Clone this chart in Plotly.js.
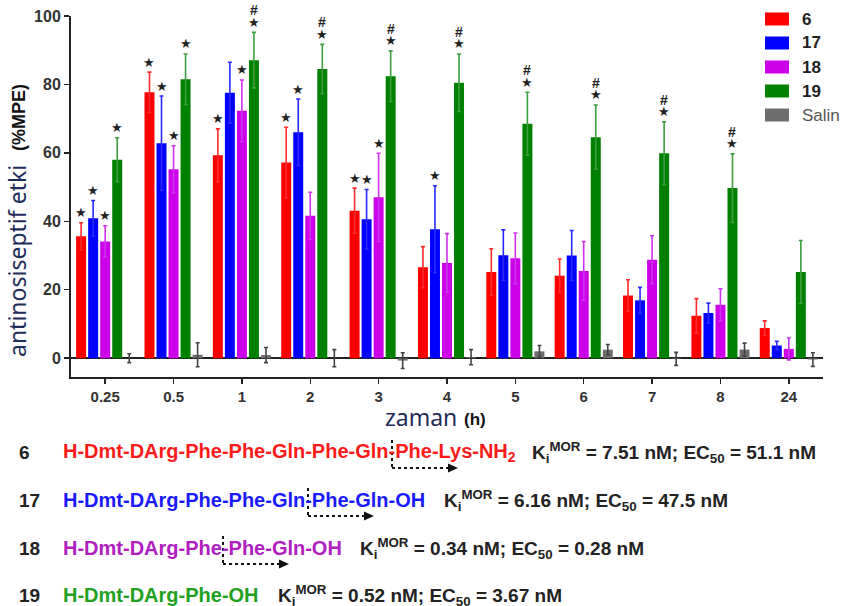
<!DOCTYPE html>
<html><head><meta charset="utf-8">
<script src="https://cdn.plot.ly/plotly-3.0.1.min.js"></script>
<style>html,body{margin:0;padding:0;background:#fff}</style>
</head><body><div id="chart" style="width:842px;height:606px"></div>
<script>
// ---- data ----
const times = ['0.25','0.5','1','2','3','4','5','6','7','8','24'];
const s6   = [35.6, 77.7, 59.3, 57.2, 43.1, 26.6, 25.2, 24.1, 18.3, 12.4, 8.8];
const e6   = [4.0, 5.9, 7.7, 10.3, 6.6, 6.0, 6.8, 4.9, 4.6, 5.0, 2.1];
const s17  = [40.9, 62.8, 77.6, 66.0, 40.6, 37.7, 30.1, 30.0, 16.9, 13.2, 3.7];
const e17  = [5.2, 13.8, 8.9, 9.7, 8.7, 12.7, 7.4, 7.3, 3.8, 2.9, 1.2];
const s18  = [34.1, 55.2, 72.3, 41.6, 47.0, 27.8, 29.2, 25.5, 28.8, 15.6, 2.7];
const e18  = [4.6, 6.9, 9.0, 6.9, 12.9, 8.6, 7.4, 8.6, 7.0, 4.7, 3.2];
const s19  = [58.0, 81.5, 87.1, 84.5, 82.4, 80.5, 68.5, 64.6, 59.9, 49.7, 25.2];
const e19  = [6.4, 7.4, 8.1, 7.2, 7.4, 8.4, 9.2, 9.4, 9.2, 10.0, 9.2];
const sSal = [0.0, 1.0, 0.9, 0.0, -0.7, 0.3, 2.0, 2.5, -0.2, 2.5, -0.4];
const eSal = [1.3, 3.5, 2.2, 2.5, 2.3, 2.2, 1.7, 1.5, 1.9, 1.9, 2.0];
// significance marks (1 = shown)
const star6  = [1,1,1,1,1,0,0,0,0,0,0];
const star17 = [1,1,0,1,1,1,0,0,0,0,0];
const star18 = [1,1,1,0,1,0,0,0,0,0,0];
const star19 = [1,1,1,1,1,1,1,1,1,1,0];
const hash19 = [0,0,1,1,1,1,1,1,1,1,0];
const seriesNames = ['6','17','18','19','Salin'];
const compoundNums = ['6','17','18','19'];
const compoundSeqs = ['H-Dmt-DArg-Phe-Phe-Gln-Phe-Gln-Phe-Lys-NH<sub>2</sub>',
                      'H-Dmt-DArg-Phe-Phe-Gln-Phe-Gln-OH',
                      'H-Dmt-DArg-Phe-Phe-Gln-OH',
                      'H-Dmt-DArg-Phe-OH'];
const kiMOR = ['7.51','6.16','0.34','0.52'];
const ec50  = ['51.1','47.5','0.28','3.67'];

// ---- styling / layout ----
const colors  = ['#ff0000','#0000ff','#cc00e8','#008000','#6e6e6e'];
const ecolors = ['#ff2a2a','#2a2aff','#d030f0','#3c9e3c','#444444'];
const seqColors = ['#ff1a1a','#1a1aff','#b020c0','#22a022'];
const vals = [s6,s17,s18,s19,sSal], errs = [e6,e17,e18,e19,eSal];
const stars = [star6,star17,star18,star19,null];

const M = {l:71, r:19, t:16, b:229};
const W = 842 - M.l - M.r, H = 606 - M.t - M.b;
const X = px => (px - M.l) / W;
const Y = py => (M.t + H - py) / H;
const BARGAP = 0.12;
const BOLD = 'Liberation Sans, Arial, sans-serif';

const traces = seriesNames.map((n,i) => ({
  type:'bar', name:n, x:times, y:vals[i],
  marker:{color:colors[i], line:{width:0}},
  error_y:{type:'data', array:errs[i], visible:true, color:ecolors[i], thickness:1.6, width:2},
  showlegend:false, hoverinfo:'skip'
}));

const annotations = [];
const pitch = (1 - BARGAP) / 5;
for (let i = 0; i < 4; i++) {
  times.forEach((t,j) => {
    const xx = j + (i - 2) * pitch;
    const top = vals[i][j] + errs[i][j];
    if (stars[i][j]) annotations.push({x:xx, y:top, xref:'x', yref:'y', text:'★', showarrow:false,
      yshift:10, yanchor:'middle', font:{family:'DejaVu Sans', size:13, color:'#222'}});
    if (i === 3 && hash19[j]) annotations.push({x:xx, y:top, xref:'x', yref:'y', text:'#', showarrow:false,
      yshift:22, yanchor:'middle', font:{family:BOLD, size:14, color:'#222', weight:'bold'}});
  });
}

// axis titles
annotations.push({xref:'paper', yref:'paper', x:X(17), y:Y(261), text:'antinosiseptif etki', textangle:-90,
  showarrow:false, xanchor:'center', yanchor:'middle', font:{family:'Noto Sans', size:23, color:'#1f2d5a'}});
annotations.push({xref:'paper', yref:'paper', x:X(19), y:Y(118), text:'(%MPE)', textangle:-90,
  showarrow:false, xanchor:'center', yanchor:'middle', font:{family:BOLD, size:18, color:'#111', weight:'bold'}});
annotations.push({xref:'paper', yref:'paper', x:X(421), y:Y(417), text:'zaman', showarrow:false,
  xanchor:'center', yanchor:'middle', font:{family:'Noto Sans', size:23, color:'#1f2d5a'}});
annotations.push({xref:'paper', yref:'paper', x:X(475), y:Y(419), text:'(h)', showarrow:false,
  xanchor:'center', yanchor:'middle', font:{family:BOLD, size:17, color:'#111', weight:'bold'}});

// custom legend
const shapes = [];
const legY = [19, 43, 67, 91, 115];
seriesNames.forEach((n,i) => {
  shapes.push({type:'rect', xref:'paper', yref:'paper', x0:X(765), x1:X(789), y0:Y(legY[i]+6.5), y1:Y(legY[i]-6.5),
    fillcolor:colors[i], line:{width:0}});
  annotations.push({xref:'paper', yref:'paper', x:X(800), y:Y(legY[i]), text:n, showarrow:false, xanchor:'left', yanchor:'middle',
    font: i < 4 ? {family:BOLD, size:17, color:'#222', weight:'bold'} : {family:BOLD, size:17, color:'#555'}});
});

// compound lines
const lineY = [452, 500, 548, 595];
const statX = [530, 442, 358, 276];
compoundNums.forEach((num,k) => {
  annotations.push({xref:'paper', yref:'paper', x:X(17), y:Y(lineY[k]), text:num, showarrow:false, xanchor:'left', yanchor:'middle',
    font:{family:BOLD, size:19, color:'#222', weight:'bold'}});
  annotations.push({xref:'paper', yref:'paper', x:X(61), y:Y(lineY[k]), showarrow:false, xanchor:'left', yanchor:'middle',
    text:compoundSeqs[k], font:{family:BOLD, size:20, color:seqColors[k], weight:'bold'}});
  annotations.push({xref:'paper', yref:'paper', x:X(statX[k]), y:Y(lineY[k]), showarrow:false, xanchor:'left', yanchor:'middle',
    text:'K<sub>i</sub><sup>MOR</sup> = '+kiMOR[k]+' nM; EC<sub>50</sub> = '+ec50[k]+' nM',
    font:{family:BOLD, size:19, color:'#222', weight:'bold'}});
});

// dotted cleavage arrows
const arrows = [{x:392, tip:458, k:0}, {x:308, tip:374, k:1}, {x:223, tip:289, k:2}];
arrows.forEach(a => {
  const yc = lineY[a.k];
  shapes.push({type:'line', xref:'paper', yref:'paper', x0:X(a.x), x1:X(a.x), y0:Y(yc-12), y1:Y(yc+17),
    line:{color:'#111', width:2, dash:'dot'}});
  shapes.push({type:'line', xref:'paper', yref:'paper', x0:X(a.x), x1:X(a.tip-9), y0:Y(yc+16), y1:Y(yc+16),
    line:{color:'#111', width:2, dash:'dot'}});
  shapes.push({type:'path', xref:'paper', yref:'paper',
    path:'M'+X(a.tip-10)+','+Y(yc+11.5)+' L'+X(a.tip)+','+Y(yc+16)+' L'+X(a.tip-10)+','+Y(yc+20.5)+' Z',
    fillcolor:'#111', line:{width:0}});
});

const layout = {
  width:842, height:606, margin:M, paper_bgcolor:'#fff', plot_bgcolor:'#fff',
  barmode:'group', bargap:BARGAP, bargroupgap:0.17, showlegend:false,
  xaxis:{type:'category', range:[-0.5,10.5], showline:true, linecolor:'#222', linewidth:2,
    ticks:'outside', ticklen:5, tickwidth:1.5, tickcolor:'#222', showgrid:false, zeroline:false,
    tickfont:{family:BOLD, size:15, color:'#333', weight:'bold'}},
  yaxis:{range:[-5.5,100], tickvals:[0,20,40,60,80,100], showline:true, linecolor:'#222', linewidth:2,
    ticks:'outside', ticklen:5, tickwidth:1.5, tickcolor:'#222', showgrid:false,
    zeroline:true, zerolinecolor:'#222', zerolinewidth:1.5,
    tickfont:{family:BOLD, size:16, color:'#333', weight:'bold'}},
  annotations, shapes
};
Plotly.newPlot('chart', traces, layout, {staticPlot:true, displayModeBar:false});
</script></body></html>
